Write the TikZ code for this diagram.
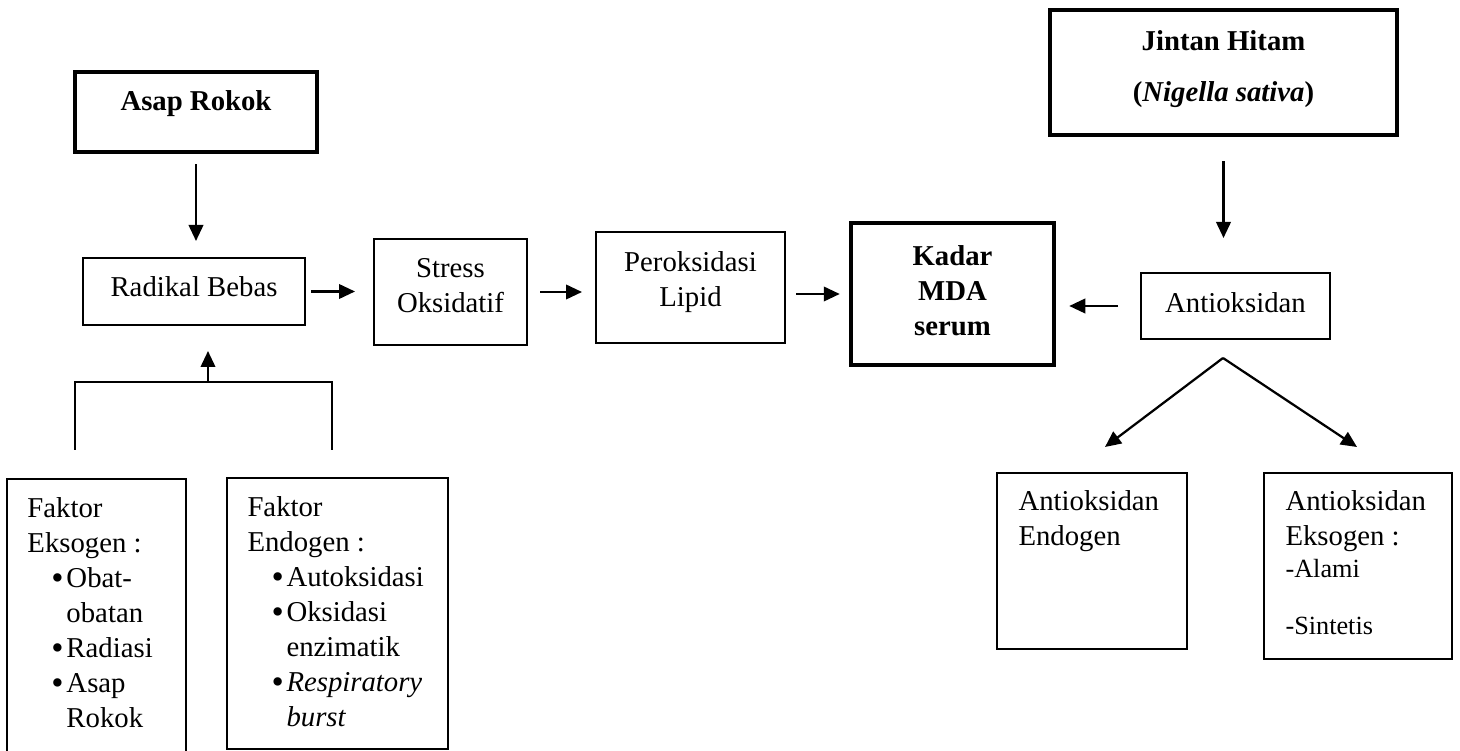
\documentclass[tikz,border=0pt]{standalone}
\usepackage{fontspec}
\setmainfont{Liberation Serif}
\usetikzlibrary{arrows.meta}
\newcommand{\basefont}{\fontsize{11.5}{14}\selectfont}
\newcommand{\bulitem}{\hspace*{9.6pt}\makebox[6pt][l]{\raisebox{-0.7pt}{\fontsize{14}{14}\selectfont\textbullet}}}
\newcommand{\bulcont}{\hspace*{15.6pt}}

\begin{document}
\begin{tikzpicture}[x=0.4pt,y=-0.4pt,font=\basefont,
  box/.style={draw,line width=0.8pt,inner sep=0pt},
  thickbox/.style={draw,line width=1.8pt,inner sep=0pt},
  txt/.style={inner sep=0pt,anchor=north,align=center},
  bftxt/.style={txt,font=\basefont\bfseries},
  listtxt/.style={inner sep=0pt,anchor=north west,align=left},
  arr/.style={-{Triangle[length=6.4pt,width=5.8pt]},line width=0.9pt}]
\useasboundingbox (0,0) rectangle (1460,751);

\node[thickbox,minimum width=96.8pt,minimum height=32pt] (asap) at (196,112) {};
\node[box,minimum width=88.8pt,minimum height=26.8pt] (radikal) at (194,291.5) {};
\node[box,minimum width=61.2pt,minimum height=42.4pt] (stress) at (450.5,292) {};
\node[box,minimum width=75.6pt,minimum height=44.4pt] (perok) at (690.5,287.5) {};
\node[thickbox,minimum width=81.2pt,minimum height=56.8pt] (mda) at (952.5,294) {};
\node[box,minimum width=75.6pt,minimum height=26.4pt] (antiok) at (1235.5,306) {};
\node[thickbox,minimum width=138.8pt,minimum height=50pt] (jintan) at (1223.5,72.5) {};
\node[box,minimum width=76pt,minimum height=70.4pt] (endo) at (1092,561) {};
\node[box,minimum width=75.2pt,minimum height=74.4pt] (ekso) at (1358,566) {};
\node[box,minimum width=71.6pt,minimum height=112.4pt] (faktorek) at (96.5,619.5) {};
\node[box,minimum width=88.4pt,minimum height=108.4pt] (faktoren) at (337.5,613.5) {};

\node[bftxt] (asaptxt) at ([yshift=-8pt]asap.north) {Asap Rokok};
\node[txt] (radikaltxt) at ([yshift=-7.6pt]radikal.north) {Radikal Bebas};
\node[txt] (stresstxt) at ([yshift=-8pt]stress.north) {Stress\\Oksidatif};
\node[txt] (peroktxt) at ([yshift=-8pt]perok.north) {Peroksidasi\\Lipid};
\node[bftxt] (mdatxt) at ([yshift=-9.6pt]mda.north) {Kadar\\MDA\\serum};
\node[txt] (antioktxt) at ([yshift=-8pt]antiok.north) {Antioksidan};
\node[bftxt] (jintantxt) at ([yshift=-8.8pt]jintan.north) {Jintan Hitam\\[6.4pt](\textit{Nigella sativa})};
\node[listtxt] (endotxt) at ([xshift=8.8pt,yshift=-7.2pt]endo.north west) {Antioksidan\\Endogen};
\node[listtxt] (eksotxt) at ([xshift=8.8pt,yshift=-7.2pt]ekso.north west) {Antioksidan\\Eksogen :\\[-1.2pt]{\fontsize{10.5}{12}\selectfont -Alami}\\[8.8pt]{\fontsize{10.5}{12}\selectfont -Sintetis}};
\node[listtxt] (faktorektxt) at ([xshift=8.4pt,yshift=-7.6pt]faktorek.north west) {Faktor\\Eksogen :\\\bulitem Obat-\\\bulcont obatan\\\bulitem Radiasi\\\bulitem Asap\\\bulcont Rokok};
\node[listtxt] (faktorentxt) at ([xshift=8.4pt,yshift=-7.6pt]faktoren.north west) {Faktor\\Endogen :\\\bulitem Autoksidasi\\\bulitem Oksidasi\\\bulcont enzimatik\\\bulitem \textit{Respiratory}\\\bulcont \textit{burst}};

\draw[arr,shorten <=4pt,shorten >=6.4pt] (asap.south) -- (asap.south |- radikal.north);
\draw[arr,shorten <=2pt,shorten >=7.2pt] (radikal.east) -- (radikal.east -| stress.west);
\draw[arr,shorten <=4.8pt,shorten >=5.2pt] (stress.east) -- (stress.east -| perok.west);
\draw[arr,shorten <=4pt,shorten >=3.6pt] (mda.west -| perok.east) -- (mda.west);
\draw[arr,shorten <=8.8pt,shorten >=5.2pt] (antiok.west) -- (antiok.west -| mda.east);
\draw[arr,shorten <=9.6pt,shorten >=13.6pt] (jintan.south) -- (jintan.south |- antiok.north);

\coordinate (split) at (1223,358);
\coordinate (endotip) at (1105,447);
\coordinate (eksotip) at (1357,447);
\draw[arr] (split) -- (endotip);
\draw[arr] (split) -- (eksotip);

\coordinate (eklink) at (75,450);
\coordinate (enlink) at (332,450);
\coordinate (merge) at (208,382);
\draw[line width=0.9pt] (eklink) -- (eklink |- merge) -- (enlink |- merge) -- (enlink);
\draw[arr,shorten >=10pt] (merge) -- (merge |- radikal.south);
\end{tikzpicture}
\end{document}
